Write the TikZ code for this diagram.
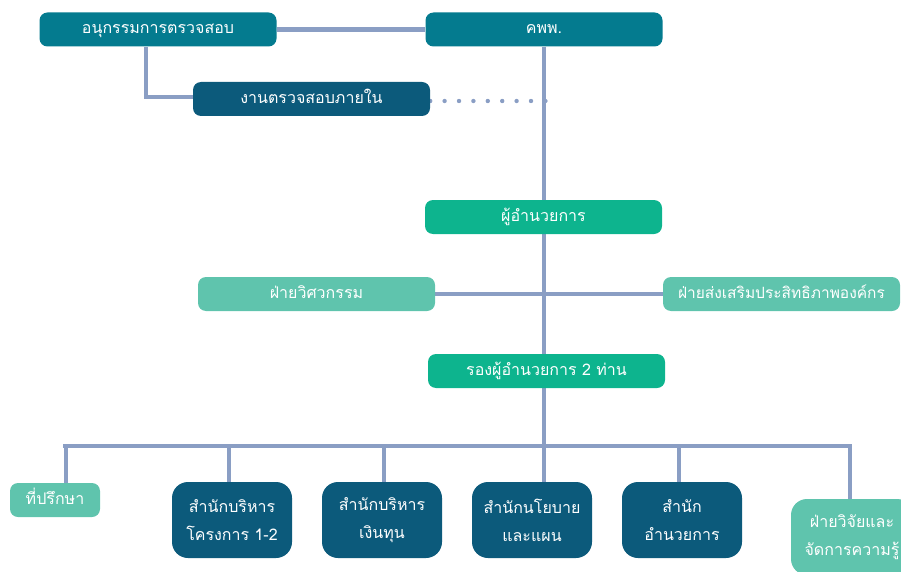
\documentclass[tikz,border=0pt]{standalone}
\usepackage{fontspec}
\newfontfamily\thaifont[Script=Thai]{Loma}
\usetikzlibrary{backgrounds}
\definecolor{cTeal}{HTML}{047B8F}
\definecolor{cDark}{HTML}{0C5A7B}
\definecolor{cGreen}{HTML}{0DB48E}
\definecolor{cLight}{HTML}{5FC4AD}
\definecolor{cLine}{HTML}{8A9EC4}
\tikzset{
  box/.style={rectangle, rounded corners=8pt, inner sep=0pt, text=white,
    minimum width=237pt, minimum height=34pt, align=center,
    text height=9pt, text depth=0pt,
    font=\thaifont\fontsize{16}{28}\selectfont},
  bigbox/.style={rectangle, rounded corners=16pt, inner sep=0pt, text=white,
    minimum width=120pt, minimum height=76pt, align=center,
    font=\thaifont\fontsize{16}{28}\selectfont},
  link/.style={draw=cLine, line width=4.2pt},
  dotlink/.style={draw=cLine, line width=4.4pt, line cap=round, dash pattern=on 0pt off 14.4pt}
}
\begin{document}
\begin{tikzpicture}[x=1pt,y=-1pt]
\clip (0,0) rectangle (901,572);
% nodes
\node[box, fill=cTeal] (sub) at (158,29.5) {อนุกรรมการตรวจสอบ};
\node[box, fill=cTeal] (kpp) at (544,29.5) {คพพ.};
\node[box, fill=cDark] (audit) at (311.5,99) {งานตรวจสอบภายใน};
\node[box, fill=cGreen] (dir) at (543.5,217) {ผู้อำนวยการ};
\node[box, fill=cLight] (eng) at (316.5,294) {ฝ่ายวิศวกรรม};
\node[box, fill=cLight, font=\thaifont\fontsize{15.5}{28}\selectfont] (prom) at (781.5,294) {ฝ่ายส่งเสริมประสิทธิภาพองค์กร};
\node[box, fill=cGreen] (dep) at (546.5,371) {รองผู้อำนวยการ 2 ท่าน};
\node[box, fill=cLight, minimum width=90pt] (adv) at (55,500) {ที่ปรึกษา};
\node[bigbox, fill=cDark] (o1) at (232,520) {สำนักบริหาร\\โครงการ 1-2};
\node[bigbox, fill=cDark] (o2) at (382,520) {สำนักบริหาร\\เงินทุน};
\node[bigbox, fill=cDark] (o3) at (532,520) {สำนักนโยบาย\\และแผน};
\node[bigbox, fill=cDark] (o4) at (682,520) {สำนัก\\อำนวยการ};
\node[bigbox, fill=cLight, minimum width=122pt] (o5) at (852,537) {ฝ่ายวิจัยและ\\จัดการความรู้};
% coordinates
\coordinate (mainbot) at (544,446);
\coordinate (busL) at (63,446);
\coordinate (busR) at (852,446);
\coordinate (b0) at (66,446);
\coordinate (b1) at (229,446);
\coordinate (b2) at (384,446);
\coordinate (b3) at (544,446);
\coordinate (b4) at (679,446);
\coordinate (b5) at (850,446);
\coordinate (subdrop) at (146,97);
\coordinate (dotend) at (547,101);
% connectors
\begin{scope}[on background layer]
\draw[link] (sub.east) -- (kpp.west);
\draw[link] (sub.south -| subdrop) -- (subdrop) -- (subdrop -| audit.west);
\draw[link] (kpp.south) -- (mainbot);
\draw[link] (eng.east) -- (prom.west);
\draw[link] (busL) -- (busR);
\draw[link] (b0) -- (b0 |- adv.north);
\draw[link] (b1) -- (b1 |- o1.north);
\draw[link] (b2) -- (b2 |- o2.north);
\draw[link] (b3) -- (b3 |- o3.north);
\draw[link] (b4) -- (b4 |- o4.north);
\draw[link] (b5) -- (b5 |- o5.north);
\draw[dotlink] (audit.east |- dotend) -- (dotend);
\end{scope}
\end{tikzpicture}
\end{document}
